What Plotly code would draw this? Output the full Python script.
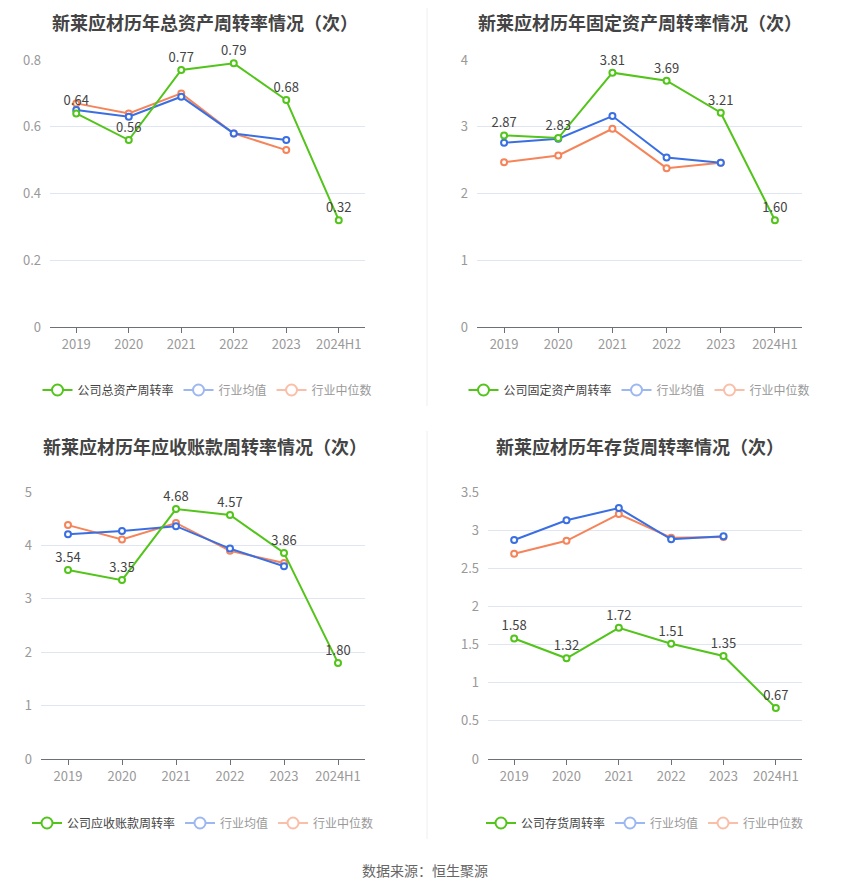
import plotly.graph_objects as go

# the page body adds an 8px margin, so the figure is shrunk and every
# pixel position below is shifted by OFF
OFF = 8
W, H = 850 - OFF, 891 - OFF

years = ["2019", "2020", "2021", "2022", "2023", "2024H1"]
ind_years = ["2019", "2020", "2021", "2022", "2023"]

# 总资产周转率
total_co = [0.64, 0.56, 0.77, 0.79, 0.68, 0.32]
total_mean = [0.65, 0.63, 0.69, 0.58, 0.56]
total_median = [0.67, 0.64, 0.70, 0.58, 0.53]

# 固定资产周转率
fixed_co = [2.87, 2.83, 3.81, 3.69, 3.21, 1.60]
fixed_mean = [2.76, 2.82, 3.16, 2.54, 2.46]
fixed_median = [2.47, 2.57, 2.97, 2.38, 2.46]

# 应收账款周转率
recv_co = [3.54, 3.35, 4.68, 4.57, 3.86, 1.80]
recv_mean = [4.21, 4.27, 4.36, 3.94, 3.61]
recv_median = [4.38, 4.11, 4.42, 3.90, 3.67]

# 存货周转率
inv_co = [1.58, 1.32, 1.72, 1.51, 1.35, 0.67]
inv_mean = [2.87, 3.13, 3.29, 2.88, 2.92]
inv_median = [2.69, 2.86, 3.21, 2.90, 2.91]

GREEN = "#52c41a"
BLUE = "#3a6fe3"
ORANGE = "#f5845a"
BLUE_LIGHT = "#9db7f2"
ORANGE_LIGHT = "#f9bfa8"


def px(x):
    return (x - OFF) / W


def py(y):
    return 1 - (y - OFF) / H


# (title, company name, company, mean, median, y range, dtick, x domain px, y domain px)
panels = [
    ("新莱应材历年总资产周转率情况（次）", "公司总资产周转率", total_co, total_mean, total_median,
     [0, 0.8], 0.2, (50, 365), (60, 327)),
    ("新莱应材历年固定资产周转率情况（次）", "公司固定资产周转率", fixed_co, fixed_mean, fixed_median,
     [0, 4], 1, (477, 802), (60, 327)),
    ("新莱应材历年应收账款周转率情况（次）", "公司应收账款周转率", recv_co, recv_mean, recv_median,
     [0, 5], 1, (41, 365), (492, 759)),
    ("新莱应材历年存货周转率情况（次）", "公司存货周转率", inv_co, inv_mean, inv_median,
     [0, 3.5], 0.5, (488, 802), (492, 759)),
]

fig = go.Figure()
layout = dict(
    width=W, height=H, autosize=False,
    margin=dict(l=0, r=0, t=0, b=0, pad=0),
    paper_bgcolor="white", plot_bgcolor="white",
    font=dict(family="Noto Sans CJK SC, Noto Sans, sans-serif", color="#999", size=12),
    showlegend=True,
)
annotations = []
shapes = []

# top edge of each title box (px)
title_top = [OFF, OFF, 432, 432]
legend_y = [390, 390, 823, 823]
title_x = [205, 640, 205, 640]

for i, (title, cname, co, mean, med, yr, dt, xd, yd) in enumerate(panels):
    n = i + 1
    xa = "x" if n == 1 else f"x{n}"
    ya = "y" if n == 1 else f"y{n}"
    lg = "legend" if n == 1 else f"legend{n}"

    def mk(color, name, xs, ys, text=None):
        return go.Scatter(
            x=xs, y=ys, xaxis=xa, yaxis=ya, name=name,
            mode="lines+markers+text" if text else "lines+markers",
            text=text, textposition="top center",
            textfont=dict(color="#444", size=13),
            line=dict(color=color, width=2),
            marker=dict(symbol="circle", size=6, color="white",
                        line=dict(color=color, width=2)),
            showlegend=False, cliponaxis=False, hoverinfo="skip",
        )

    fig.add_trace(mk(ORANGE, "行业中位数", ind_years, med))
    fig.add_trace(mk(BLUE, "行业均值", ind_years, mean))
    fig.add_trace(mk(GREEN, cname, years, co, text=[f"{v:.2f}" for v in co]))

    # legend-only entries
    for color, name, tc in [(GREEN, cname, "#444"), (BLUE_LIGHT, "行业均值", "#999"),
                            (ORANGE_LIGHT, "行业中位数", "#999")]:
        fig.add_trace(go.Scatter(
            x=[None], y=[None], xaxis=xa, yaxis=ya, mode="lines+markers",
            name=f"<span style='color:{tc}'>{name}</span>",
            line=dict(color=color, width=2),
            marker=dict(symbol="circle", size=11, color="white",
                        line=dict(color=color, width=2)),
            showlegend=True, legend=lg,
        ))

    layout[f"xaxis{'' if n == 1 else n}"] = dict(
        domain=[px(xd[0]), px(xd[1])], anchor=ya, automargin=False,
        type="category", categoryorder="array", categoryarray=years,
        range=[-0.5, 5.5], showgrid=False,
        showline=True, linecolor="#6e7079", linewidth=1,
        ticks="outside", ticklen=5, tickcolor="#6e7079",
        tickfont=dict(color="#999", size=13), fixedrange=True,
    )
    layout[f"yaxis{'' if n == 1 else n}"] = dict(
        domain=[py(yd[1]), py(yd[0])], anchor=xa, automargin=False,
        range=yr, dtick=dt, tick0=0, showgrid=True, gridcolor="#e0e6f1",
        zeroline=False, showline=False, ticks="", ticklabelstandoff=8,
        tickfont=dict(color="#999", size=13), fixedrange=True,
    )
    layout[lg] = dict(
        orientation="h", x=px((xd[0] + xd[1]) / 2), xanchor="center",
        y=py(legend_y[i]), yanchor="middle",
        font=dict(size=12, color="#999"), bgcolor="rgba(0,0,0,0)",
        itemwidth=30, tracegroupgap=0,
    )
    annotations.append(dict(
        text=f"<b>{title}</b>", x=px(title_x[i]), y=py(title_top[i]),
        xref="paper", yref="paper", showarrow=False, xanchor="center", yanchor="top",
        borderpad=0, font=dict(size=18, color="#444"),
    ))

annotations.append(dict(
    text="数据来源：恒生聚源", x=px(425), y=py(870), xref="paper", yref="paper",
    showarrow=False, xanchor="center", yanchor="middle", font=dict(size=14, color="#666"),
))
shapes.append(dict(type="line", xref="paper", yref="paper", x0=px(427), x1=px(427),
                   y0=py(406), y1=1, line=dict(color="#eeeeee", width=1)))
shapes.append(dict(type="line", xref="paper", yref="paper", x0=px(427), x1=px(427),
                   y0=py(839), y1=py(431), line=dict(color="#eeeeee", width=1)))

layout["annotations"] = annotations
layout["shapes"] = shapes
fig.update_layout(**layout)

fig.write_html("out.html")
